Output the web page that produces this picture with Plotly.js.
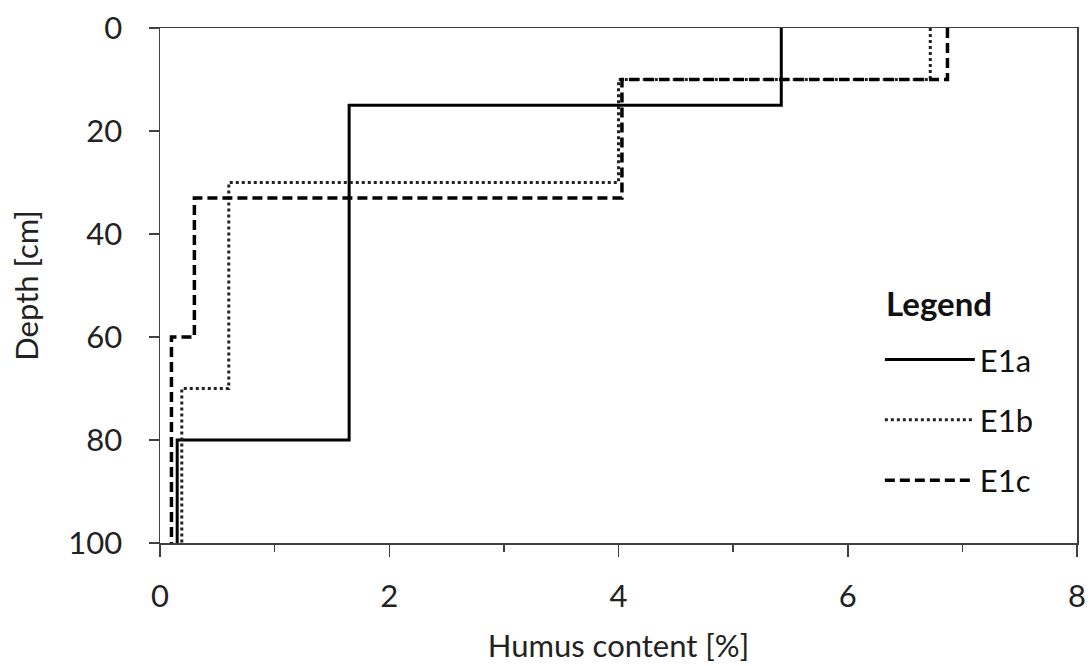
<!DOCTYPE html>
<html>
<head>
<meta charset="utf-8">
<script src="https://cdn.plot.ly/plotly-3.0.1.min.js"></script>
<style>html,body{margin:0;padding:0;background:#fff;}#chart{width:1092px;height:666px;}</style>
</head>
<body>
<div id="chart"></div>
<script>
// Layer boundaries (depth, cm) and humus content (%) per profile
const seriesNames = ["E1a", "E1b", "E1c"];
const e1aDepths = [0, 15, 80, 100];
const e1aHumus  = [5.42, 1.65, 0.15];
const e1bDepths = [0, 10, 30, 70, 100];
const e1bHumus  = [6.72, 4.0, 0.6, 0.19];
const e1cDepths = [0, 10, 33, 60, 100];
const e1cHumus  = [6.87, 4.03, 0.3, 0.1];
const xTickVals = [0, 2, 4, 6, 8];
const yTickVals = [0, 20, 40, 60, 80, 100];
const legendHeading = "Legend";

function stepProfile(depths, vals) {
  const x = [], y = [];
  for (let i = 0; i < vals.length; i++) {
    x.push(vals[i], vals[i]);
    y.push(depths[i], depths[i + 1]);
  }
  return {x, y};
}

const styles = [
  {color: "#000", width: 3, dash: "solid"},
  {color: "#222", width: 3, dash: "3px,3px"},
  {color: "#000", width: 3.5, dash: "10px,5px"}
];
const profiles = [
  stepProfile(e1aDepths, e1aHumus),
  stepProfile(e1bDepths, e1bHumus),
  stepProfile(e1cDepths, e1cHumus)
];

const traces = profiles.map((p, i) => ({
  x: p.x, y: p.y, type: "scatter", mode: "lines",
  name: seriesNames[i], legendgroup: seriesNames[i],
  line: styles[i], hoverinfo: "skip"
}));

const font = "Lato, 'Open Sans', sans-serif";
const FS = 31;
const axisCommon = {
  showline: true, mirror: true, linecolor: "#404040", linewidth: 1.5,
  showgrid: false, zeroline: false, ticks: "outside", tickcolor: "#404040",
  tickwidth: 1.5, tickfont: {family: font, size: FS, color: "#222"}
};

const layout = {
  width: 1092, height: 666,
  margin: {l: 160, r: 15, t: 28, b: 123},
  paper_bgcolor: "#fff", plot_bgcolor: "#fff",
  showlegend: true,
  xaxis: Object.assign({}, axisCommon, {
    range: [0, 8], tickvals: xTickVals, ticklen: 12, ticklabelstandoff: 13,
    minor: {dtick: 1, ticks: "outside", ticklen: 7, tickcolor: "#404040", tickwidth: 1.5, showgrid: false},
    title: {text: "Humus content [%]", font: {family: font, size: FS, color: "#222"}, standoff: 22}
  }),
  yaxis: Object.assign({}, axisCommon, {
    range: [100, 0], tickvals: yTickVals, ticklen: 10, ticklabelstandoff: 20,
    title: {text: "Depth [cm]", font: {family: font, size: FS, color: "#222"}, standoff: 20}
  }),
  annotations: [{
    text: "<b>" + legendHeading + "</b>", xref: "paper", yref: "paper",
    x: 0.789, y: 0.466, xanchor: "left", yanchor: "middle", showarrow: false,
    font: {family: font, size: 33, color: "#111"}
  }],
  legend: {
    x: 0.785, y: 0.408, xanchor: "left", yanchor: "top",
    bgcolor: "rgba(0,0,0,0)", borderwidth: 0,
    font: {family: font, size: FS, color: "#111"},
    tracegroupgap: 17, itemwidth: 90
  }
};

Plotly.newPlot("chart", traces, layout, {staticPlot: true, displayModeBar: false});
</script>
</body>
</html>
